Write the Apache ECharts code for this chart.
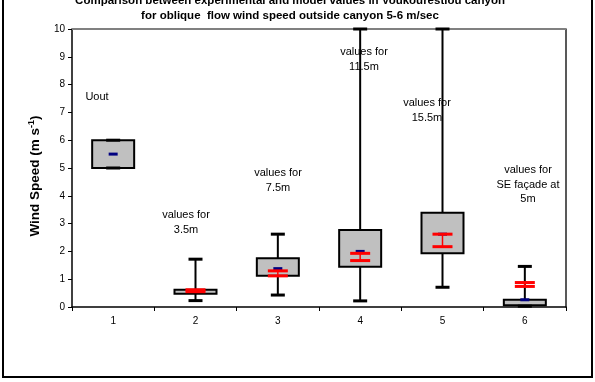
<!DOCTYPE html>
<html><head><meta charset="utf-8">
<script src="https://cdn.jsdelivr.net/npm/echarts@6/dist/echarts.min.js"></script>
<style>html,body{margin:0;padding:0;background:#fff}#c{width:595px;height:382px}</style>
</head><body><div id="c"></div>
<script>
const categories = ['1','2','3','4','5','6'];
const whiskerMin = [5.0, 0.23, 0.43, 0.22, 0.71, 0.03];
const boxLow     = [5.0, 0.48, 1.12, 1.45, 1.93, 0.06];
const boxHigh    = [6.0, 0.62, 1.75, 2.77, 3.39, 0.26];
const whiskerMax = [6.0, 1.72, 2.62, 10.0, 10.0, 1.46];
const expMean    = [5.5, 0.58, 1.38, 2.00, 2.62, 0.26];
const modelLow   = [null, 0.55, 1.12, 1.67, 2.17, 0.74];
const modelHigh  = [null, 0.62, 1.30, 1.93, 2.62, 0.88];
const yTicks = [0,1,2,3,4,5,6,7,8,9,10];
const titleLines = ['Comparison between experimental and model values in Voukourestiou canyon',
  'for oblique  flow wind speed outside canyon 5-6 m/sec'];
const notes = [
  {t:'Uout', x:97, y:96},
  {t:'values for\n3.5m', x:186, y:214},
  {t:'values for\n7.5m', x:278, y:172},
  {t:'values for\n11.5m', x:364, y:51},
  {t:'values for\n15.5m', x:427, y:102},
  {t:'values for\nSE façade at\n5m', x:528, y:169}
];

const rows = categories.map((c,i)=>[i, whiskerMin[i], boxLow[i], boxHigh[i], whiskerMax[i], expMean[i], modelLow[i], modelHigh[i]]);

function hline(x, y, w, color, lw){
  return {type:'line', shape:{x1:x-w/2, y1:y, x2:x+w/2, y2:y}, style:{stroke:color, lineWidth:lw}};
}
function renderItem(params, api){
  const i = api.value(0);
  const P = v => api.coord([i, v]);
  const pMin = P(api.value(1)), pLow = P(api.value(2)), pHigh = P(api.value(3)), pMax = P(api.value(4));
  const x = pMin[0];
  const ch = [];
  ch.push({type:'line', shape:{x1:x, y1:pMin[1], x2:x, y2:pMax[1]}, style:{stroke:'#000', lineWidth:2}});
  ch.push({type:'rect', shape:{x:x-21, y:pHigh[1], width:42, height:pLow[1]-pHigh[1]}, style:{fill:'#c0c0c0', stroke:'#000', lineWidth:2}});
  ch.push(hline(x, pMin[1], 14, '#000', 3));
  ch.push(hline(x, pMax[1], 14, '#000', 3));
  const m = api.value(5);
  if (!isNaN(m)) ch.push(hline(x, P(m)[1], 9, '#000080', 3));
  const ml = api.value(6), mh = api.value(7);
  if (!isNaN(ml) && !isNaN(mh) && ml != null) {
    const a = P(ml)[1], b = P(mh)[1];
    ch.push({type:'line', shape:{x1:x, y1:a, x2:x, y2:b}, style:{stroke:'#ff0000', lineWidth:1.5}});
    ch.push(hline(x, a, 20, '#ff0000', 3));
    ch.push(hline(x, b, 20, '#ff0000', 3));
  }
  return {type:'group', children:ch};
}

const chart = echarts.init(document.getElementById('c'), null, {renderer:'canvas'});
const font = 'Arial, "Liberation Sans", sans-serif';
const graphics = [
  {type:'rect', shape:{x:3, y:-10, width:589, height:387}, style:{fill:'none', stroke:'#000', lineWidth:2}, z:0},
  {type:'line', shape:{x1:72, y1:29, x2:566, y2:29}, style:{stroke:'#808080', lineWidth:2}, z:1},
  {type:'text', x:290, y:1, style:{text:titleLines[0], font:'bold 11.5px '+font, fill:'#000', textAlign:'center', textVerticalAlign:'middle'}},
  {type:'text', x:290, y:16, style:{text:titleLines[1], font:'bold 11.5px '+font, fill:'#000', textAlign:'center', textVerticalAlign:'middle'}},
  {type:'text', x:35, y:176, rotation:Math.PI/2, z:5,
   style:{text:'{a|Wind Speed (m s}{b|-1}{a|)}', textAlign:'center', textVerticalAlign:'middle',
     rich:{a:{fontSize:13.5, fontWeight:'bold', fontFamily:font, fill:'#000'},
           b:{fontSize:9, fontWeight:'bold', fontFamily:font, fill:'#000', verticalAlign:'top', padding:[0,0,7,0]}}}}
];
notes.forEach(n=>graphics.push({type:'text', x:n.x, y:n.y-6, z:5, style:{text:n.t, font:'11px '+font, fill:'#000', textAlign:'center', lineHeight:14.5}}));

chart.setOption({
  animation:false,
  backgroundColor:'#fff',
  grid:{left:72, right:29, top:29, bottom:75, show:false},
  xAxis:{type:'category', data:categories, boundaryGap:true,
    axisLine:{lineStyle:{color:'#000', width:1.5}},
    axisTick:{show:true, length:4, lineStyle:{color:'#000'}},
    axisLabel:{color:'#000', fontSize:10, fontFamily:font, margin:9}},
  yAxis:[{type:'value', min:yTicks[0], max:yTicks[yTicks.length-1], interval:1,
    axisLine:{show:true, lineStyle:{color:'#000', width:1.5}},
    axisTick:{show:true, length:4, lineStyle:{color:'#000'}},
    splitLine:{show:false},
    axisLabel:{color:'#000', fontSize:10, fontFamily:font, margin:7}},
   {type:'value', position:'right', min:0, max:10, axisLine:{show:true, onZero:false, lineStyle:{color:'#222', width:1.5}},
    axisTick:{show:false}, axisLabel:{show:false}, splitLine:{show:false}}],
  series:[{type:'custom', renderItem:renderItem, data:rows, encode:{x:0, y:[1,4]}, clip:false, z:3}],
  graphic:graphics
});
</script></body></html>
